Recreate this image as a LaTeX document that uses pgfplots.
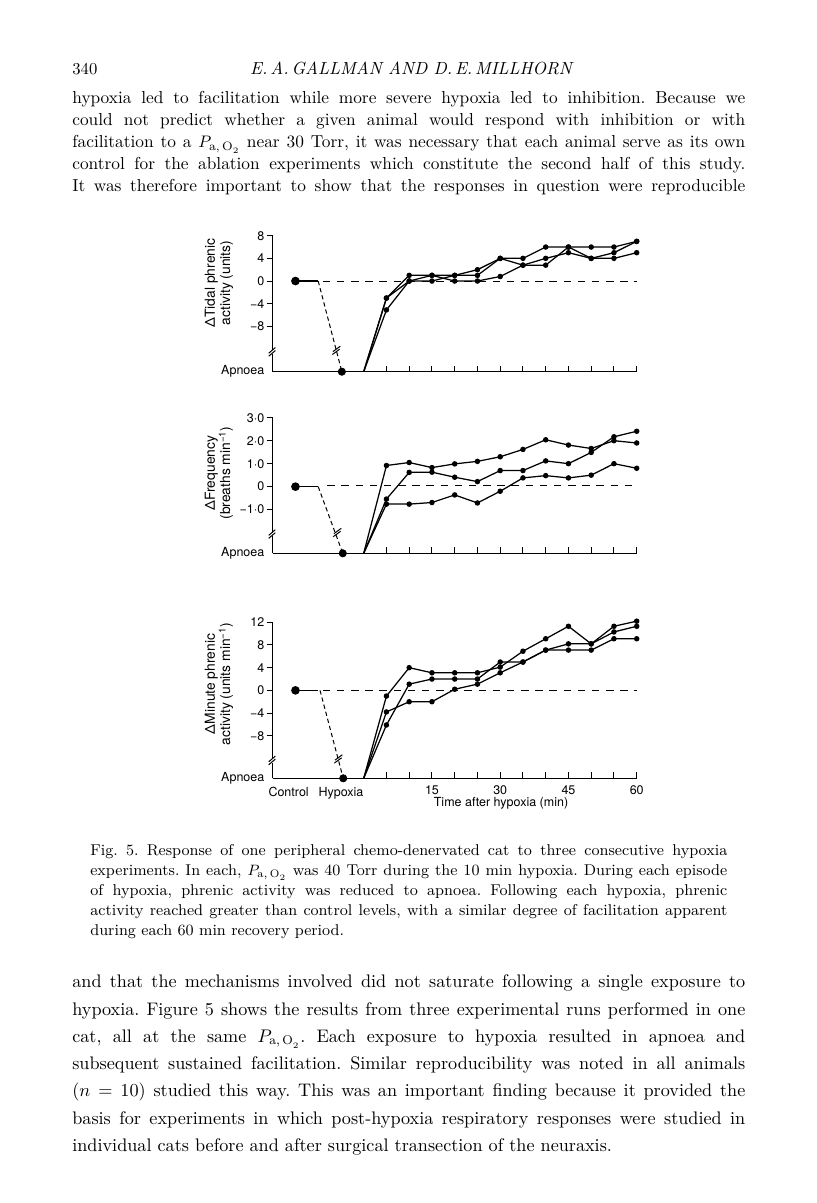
\documentclass[border=0pt]{standalone}
\usepackage{pgfplots}
\pgfplotsset{compat=1.18}
\usepackage{fontspec}
\newfontfamily\chartfont{TeX Gyre Heros}
\frenchspacing
\newcommand{\Pao}{$P_{\mathrm{a,\,O}_{2}}$}
\newcommand{\cf}{\chartfont\fontsize{7.5}{9}\selectfont}
\newcommand{\lf}{\chartfont\fontsize{8.3}{9.2}\selectfont}
\pgfplotsset{
  panel/.style={
    scale only axis, width=218.4pt,
    xmin=-20, xmax=60, clip=false,
    axis lines*=left,
    axis line style={line width=0.7pt},
    tick align=inside,
    major tick length=3.6pt,
    tick style={line width=0.6pt, black},
    xtick={5,10,...,60}, xticklabels={},
    ytick style={xshift=-3.6pt},
    tick label style={font=\cf},
    yticklabel style={xshift=-1.5pt},
    extra y tick style={major tick length=0pt},
    every mark/.append style={solid},
  },
  ser/.style={black, line width=0.75pt, mark=*, mark size=1.25pt, mark indices={2,...,13}},
  ctl/.style={black, line width=0.75pt, mark=*, mark size=2.2pt, mark indices={1}},
  hyp/.style={black, only marks, mark=*, mark size=2.2pt},
  diag/.style={black, line width=0.6pt, dash pattern=on 2.6pt off 1.8pt},
  zero/.style={black, line width=0.6pt, dash pattern=on 4.5pt off 4pt},
}
\begin{document}
\begin{tikzpicture}
\fill[white] (0,0) rectangle (489.6pt,-721.8pt);
\useasboundingbox (0,0) rectangle (489.6pt,-721.8pt);

% ---------- Panel 1: tidal phrenic activity
\begin{axis}[panel, at={(163.62pt,-223.02pt)}, anchor=south west,
  height=81.6pt, ymin=-16, ymax=8,
  ytick={-8,-4,0,4,8}, yticklabels={−8,−4,0,4,8},
  extra y ticks={-16}, extra y tick labels={Apnoea}]
\addplot[zero] coordinates {(-9,0)(60,0)};
\addplot[ctl] coordinates {(-15,0)(-10,0)};
\addplot[diag] coordinates {(-10,0)(-4.8,-16)};
\addplot[hyp] coordinates {(-4.8,-16)};
\addplot[ser] coordinates {(0,-16)(5,-3)(10,1)(15,1)(20,1)(25,2)(30,4)(35,4)(40,6)(45,6)(50,6)(55,6)(60,7)};
\addplot[ser] coordinates {(0,-16)(5,-3)(10,0)(15,1)(20,0)(25,0)(30,0.8)(35,2.8)(40,2.8)(45,6)(50,4)(55,4)(60,5)};
\addplot[ser] coordinates {(0,-16)(5,-5.1)(10,0)(15,0)(20,1)(25,1)(30,4)(35,2.8)(40,4)(45,5)(50,4)(55,5)(60,7)};
\fill[white] (axis cs:-20,-12.5) ++(-1.2pt,-1.4pt) rectangle ++(2.4pt,2.8pt);
\draw[line width=0.6pt] (axis cs:-20,-12.5) ++(-2.4pt,-2.6pt) -- ++(4pt,3.4pt);
\draw[line width=0.6pt] (axis cs:-20,-12.5) ++(-2.4pt,-0.8pt) -- ++(4pt,3.4pt);
\draw[line width=0.6pt] (axis cs:-5.94,-12.5) ++(-2.6pt,-1.6pt) -- ++(4.4pt,3.2pt);
\draw[line width=0.6pt] (axis cs:-5.94,-12.5) ++(-2.2pt,0.2pt) -- ++(4.4pt,3.2pt);
\end{axis}

% ---------- Panel 2: frequency
\begin{axis}[panel, at={(163.62pt,-331.98pt)}, anchor=south west,
  height=81.36pt, ymin=-2.9, ymax=3,
  ytick={-1,0,1,2,3}, yticklabels={−1·0,0,1·0,2·0,3·0},
  extra y ticks={-2.9}, extra y tick labels={Apnoea}]
\addplot[zero] coordinates {(-8,0.05)(60,0.05)};
\addplot[ctl] coordinates {(-15,0)(-10,0)};
\addplot[diag] coordinates {(-10,0)(-4.6,-2.9)};
\addplot[hyp] coordinates {(-4.6,-2.9)};
\addplot[ser] coordinates {(0,-2.9)(5,0.92)(10,1.05)(15,0.83)(20,0.99)(25,1.1)(30,1.3)(35,1.62)(40,2.04)(45,1.81)(50,1.66)(55,2.0)(60,1.9)};
\addplot[ser] coordinates {(0,-2.9)(5,-0.54)(10,0.62)(15,0.63)(20,0.41)(25,0.22)(30,0.70)(35,0.70)(40,1.12)(45,1.0)(50,1.49)(55,2.17)(60,2.41)};
\addplot[ser] coordinates {(0,-2.9)(5,-0.76)(10,-0.76)(15,-0.69)(20,-0.36)(25,-0.71)(30,-0.2)(35,0.38)(40,0.48)(45,0.38)(50,0.5)(55,1.0)(60,0.8)};
\fill[white] (axis cs:-20,-2.06) ++(-1.2pt,-1.4pt) rectangle ++(2.4pt,2.8pt);
\draw[line width=0.6pt] (axis cs:-20,-2.06) ++(-2.4pt,-2.6pt) -- ++(4pt,3.4pt);
\draw[line width=0.6pt] (axis cs:-20,-2.06) ++(-2.4pt,-0.8pt) -- ++(4pt,3.4pt);
\draw[line width=0.6pt] (axis cs:-5.74,-2.06) ++(-2.6pt,-1.6pt) -- ++(4.4pt,3.2pt);
\draw[line width=0.6pt] (axis cs:-5.74,-2.06) ++(-2.2pt,0.2pt) -- ++(4.4pt,3.2pt);
\end{axis}

% ---------- Panel 3: minute phrenic activity
\begin{axis}[panel, at={(163.62pt,-466.98pt)}, anchor=south west,
  height=93.6pt, ymin=-15.5, ymax=12,
  ytick={-8,-4,0,4,8,12}, yticklabels={−8,−4,0,4,8,12},
  extra y ticks={-15.5}, extra y tick labels={Apnoea},
  xticklabels={,,15,,,30,,,45,,,60},
  xticklabel style={yshift=-1pt},
  extra x ticks={-16.5,-5}, extra x tick labels={Control,Hypoxia},
  extra x tick style={major tick length=0pt, xticklabel style={yshift=-1pt}}]
\addplot[zero] coordinates {(-9,0)(60,0)};
\addplot[ctl] coordinates {(-15,0)(-10,0)};
\addplot[diag] coordinates {(-9.6,0)(-4.5,-15.5)};
\addplot[hyp] coordinates {(-4.5,-15.5)};
\addplot[ser] coordinates {(0,-15.5)(5,-1.0)(10,4.0)(15,3.1)(20,3.1)(25,3.1)(30,4.1)(35,6.9)(40,9.1)(45,11.3)(50,8.2)(55,11.3)(60,12.2)};
\addplot[ser] coordinates {(0,-15.5)(5,-6.1)(10,1.1)(15,2.0)(20,2.0)(25,2.0)(30,5.0)(35,5.0)(40,7.1)(45,8.2)(50,8.2)(55,10.3)(60,11.3)};
\addplot[ser] coordinates {(0,-15.5)(5,-3.8)(10,-2.0)(15,-2.0)(20,0.2)(25,1.1)(30,3.1)(35,5.0)(40,7.1)(45,7.1)(50,7.1)(55,9.1)(60,9.1)};
\fill[white] (axis cs:-20,-12.35) ++(-1.2pt,-1.4pt) rectangle ++(2.4pt,2.8pt);
\draw[line width=0.6pt] (axis cs:-20,-12.35) ++(-2.4pt,-2.6pt) -- ++(4pt,3.4pt);
\draw[line width=0.6pt] (axis cs:-20,-12.35) ++(-2.4pt,-0.8pt) -- ++(4pt,3.4pt);
\draw[line width=0.6pt] (axis cs:-5.5,-12.35) ++(-2.6pt,-1.6pt) -- ++(4.4pt,3.2pt);
\draw[line width=0.6pt] (axis cs:-5.5,-12.35) ++(-2.2pt,0.2pt) -- ++(4.4pt,3.2pt);
\end{axis}

\begin{scope}[x=0.6pt,y=-0.6pt]
% axis titles
\node[rotate=90, align=center, font=\lf] at (219,283) {ΔTidal phrenic\\activity (units)};
\node[rotate=90, align=center, font=\lf] at (219,473) {ΔFrequency\\(breaths min\textsuperscript{−1})};
\node[rotate=90, align=center, font=\lf] at (219,684) {ΔMinute phrenic\\activity (units min\textsuperscript{−1})};
\node[font=\cf] at (501,803) {Time after hypoxia (min)};

% header
\node[anchor=base west, inner sep=0, font=\fontsize{10}{12}\selectfont] at (72,75) {340};
\node[anchor=base, inner sep=0, font=\fontsize{10.5}{12}\selectfont\itshape] at (411,75) {E.\,A.\,GALLMAN AND D.\,E.\,MILLHORN};

% paragraph 1
\begin{scope}[every node/.style={anchor=base west, inner sep=0, font=\fontsize{10.4}{12}\selectfont}]
\node at (72,104) {\makebox[403.8pt][s]{hypoxia led to facilitation while more severe hypoxia led to inhibition. Because we}};
\node at (72,126) {\makebox[403.8pt][s]{could not predict whether a given animal would respond with inhibition or with}};
\node at (72,148) {\makebox[403.8pt][s]{facilitation to a \Pao{} near 30 Torr, it was necessary that each animal serve as its own}};
\node at (72,170) {\makebox[403.8pt][s]{control for the ablation experiments which constitute the second half of this study.}};
\node at (72,192) {\makebox[403.8pt][s]{It was therefore important to show that the responses in question were reproducible}};
\end{scope}

% caption
\begin{scope}[every node/.style={anchor=base west, inner sep=0, font=\fontsize{9.4}{11}\selectfont}]
\node at (90,855) {\makebox[382.2pt][s]{Fig. 5. Response of one peripheral chemo-denervated cat to three consecutive hypoxia}};
\node at (90,875) {\makebox[382.2pt][s]{experiments. In each, \Pao{} was 40 Torr during the 10 min hypoxia. During each episode}};
\node at (90,895) {\makebox[382.2pt][s]{of hypoxia, phrenic activity was reduced to apnoea. Following each hypoxia, phrenic}};
\node at (90,915) {\makebox[382.2pt][s]{activity reached greater than control levels, with a similar degree of facilitation apparent}};
\node at (90,935) {during each 60 min recovery period.};
\end{scope}

% paragraph 2
\begin{scope}[every node/.style={anchor=base west, inner sep=0, font=\fontsize{10.9}{13}\selectfont}]
\node at (72,987) {\makebox[403.8pt][s]{and that the mechanisms involved did not saturate following a single exposure to}};
\node at (72,1015) {\makebox[403.8pt][s]{hypoxia. Figure 5 shows the results from three experimental runs performed in one}};
\node at (72,1042) {\makebox[403.8pt][s]{cat, all at the same \Pao. Each exposure to hypoxia resulted in apnoea and}};
\node at (72,1069) {\makebox[403.8pt][s]{subsequent sustained facilitation. Similar reproducibility was noted in all animals}};
\node at (72,1096) {\makebox[403.8pt][s]{($n=10$) studied this way. This was an important finding because it provided the}};
\node at (72,1124) {\makebox[403.8pt][s]{basis for experiments in which post-hypoxia respiratory responses were studied in}};
\node at (72,1151) {individual cats before and after surgical transection of the neuraxis.};
\end{scope}
\end{scope}
\end{tikzpicture}
\end{document}
